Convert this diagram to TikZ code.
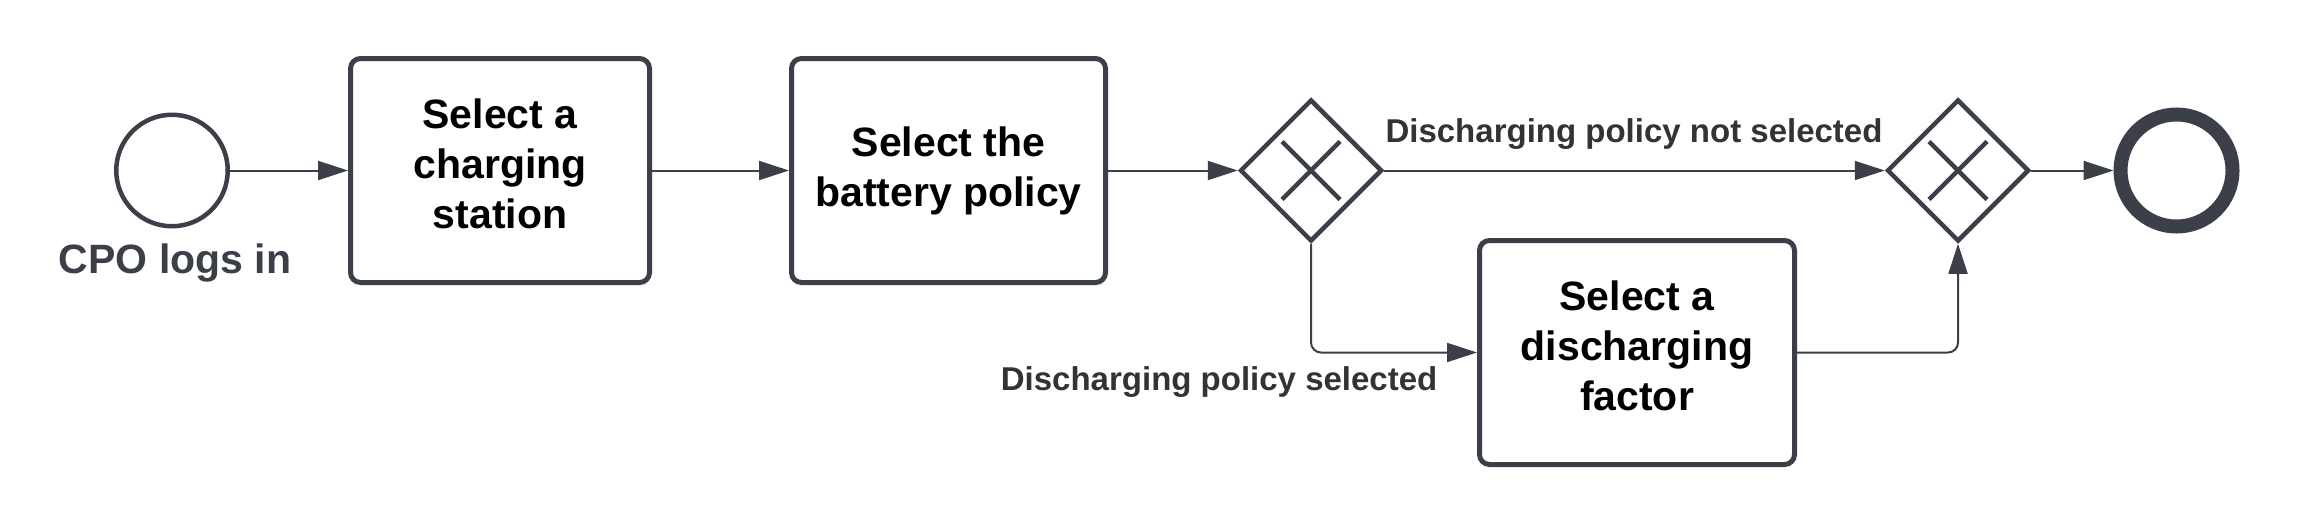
\documentclass[tikz,border=0pt]{standalone}
\usepackage{fontspec}
\setmainfont{Liberation Sans}
\usetikzlibrary{arrows.meta,shapes.geometric}
\definecolor{shp}{RGB}{59,64,72}
\definecolor{lbltxt}{RGB}{51,51,51}
\newcommand\lowpadA{\rule[-4.4pt]{0pt}{4.4pt}}
\newcommand\lowpadB{\rule[-1.2pt]{0pt}{1.2pt}}
\begin{document}
\begin{tikzpicture}[x=0.3pt,y=-0.3pt,
  task/.style={draw=shp, line width=1.5pt, rounded corners=3pt, fill=white,
    minimum height=67.2pt, align=center, inner sep=0pt, text=black,
    font=\fontsize{12.3pt}{15pt}\selectfont\bfseries},
  startev/.style={circle, draw=shp, line width=1.35pt, minimum size=33.45pt, inner sep=0pt},
  endev/.style={circle, draw=shp, line width=4.2pt, minimum size=33.6pt, inner sep=0pt},
  gate/.style={diamond, aspect=1, draw=shp, line width=1.35pt,
    minimum width=42.6pt, minimum height=42.6pt, inner sep=0pt},
  flow/.style={draw=shp, line width=0.6pt, -{Triangle[length=9pt,width=5.7pt]}},
  lbl/.style={text=lbltxt, inner sep=0pt, font=\fontsize{9.9pt}{12pt}\selectfont\bfseries},
  evlbl/.style={text=shp, inner sep=0pt, font=\fontsize{12.3pt}{15pt}\selectfont\bfseries},
  xmark/.style={draw=shp, line width=1.35pt}]
\useasboundingbox (0,0) rectangle (2323,519);

\node[startev] (s) at (172,170.5) {};
\node[evlbl, anchor=base] (sl) at (175,273) {CPO logs in};
\node[task, minimum width=89.7pt] (b1) at (500,170.5) {Select a\\charging\\station\lowpadA};
\node[task, minimum width=94.2pt] (b2) at (948.5,170.5) {Select the\\battery policy\lowpadB};
\node[gate] (g1) at (1311,170.5) {};
\node[gate] (g2) at (1958,170.5) {};
\node[endev] (e) at (2176.5,170.5) {};
\node[task, minimum width=94.5pt] (b3) at (1637,352.5) {Select a\\discharging\\factor\lowpadA};

\draw[xmark] ([shift={(-29,-29)}]g1.center) -- ([shift={(29,29)}]g1.center);
\draw[xmark] ([shift={(-29,29)}]g1.center) -- ([shift={(29,-29)}]g1.center);
\draw[xmark] ([shift={(-29,-29)}]g2.center) -- ([shift={(29,29)}]g2.center);
\draw[xmark] ([shift={(-29,29)}]g2.center) -- ([shift={(29,-29)}]g2.center);

\draw[flow] (s) -- (b1);
\draw[flow] (b1) -- (b2);
\draw[flow] (b2) -- (g1);
\draw[flow] (g1) -- (g2);
\draw[flow] (g2) -- (e);
\draw[flow, rounded corners=3pt] (g1.south) |- (b3.west);
\draw[flow, rounded corners=3pt] (b3.east) -| (g2.south);

\node[lbl, anchor=base] (l1) at (1634,142) {Discharging policy not selected};
\node[lbl, anchor=base east] (l2) at (1438,390) {Discharging policy selected};
\end{tikzpicture}
\end{document}
